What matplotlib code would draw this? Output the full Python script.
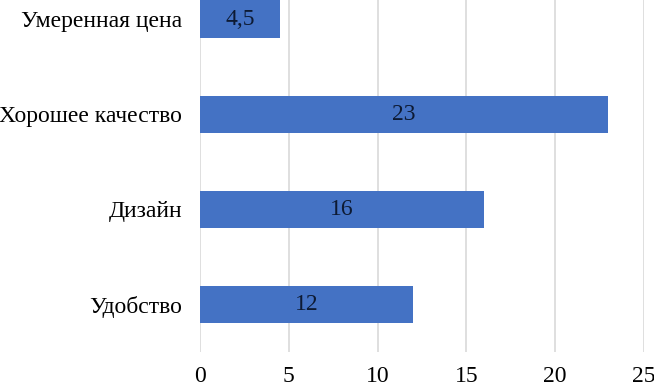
import matplotlib
matplotlib.use("Agg")
from matplotlib import pyplot as plt

#### chart data
categories = ["Удобство", "Дизайн", "Хорошее качество", "Умеренная цена"]
values = [12, 16, 23, 4.5]
bar_labels = ["12", "16", "23", "4,5"]
x_ticks = [0, 5, 10, 15, 20, 25]

plt.rcParams['font.family'] = ['Liberation Serif', 'DejaVu Serif']

fig = plt.figure(figsize=(6.54, 3.86), dpi=100)
ax = fig.add_axes([200/654, 1 - 352/386, 444/654, 352/386])

pos = list(range(len(categories)))
bars = ax.barh(pos, values, height=0.39, color='#4472C4', zorder=3)
for b, lab in zip(bars, bar_labels):
    ax.text(b.get_width()/2, b.get_y() + b.get_height()/2, lab,
            ha='center', va='center', fontsize=17, color='#0d1a33', zorder=4)

ax.set_xlim(0, 25)
ax.set_ylim(-0.5, 3.2)
ax.set_xticks(x_ticks)
ax.set_yticks(pos)
ax.set_yticklabels(categories)
ax.tick_params(axis='both', length=0, labelsize=17, colors='black')
ax.tick_params(axis='x', pad=10)
ax.tick_params(axis='y', pad=13)
ax.xaxis.grid(True, color='#d9d9d9', linewidth=1.2, zorder=0)
for s in ax.spines.values():
    s.set_visible(False)

fig.savefig("out.png", dpi=100)
